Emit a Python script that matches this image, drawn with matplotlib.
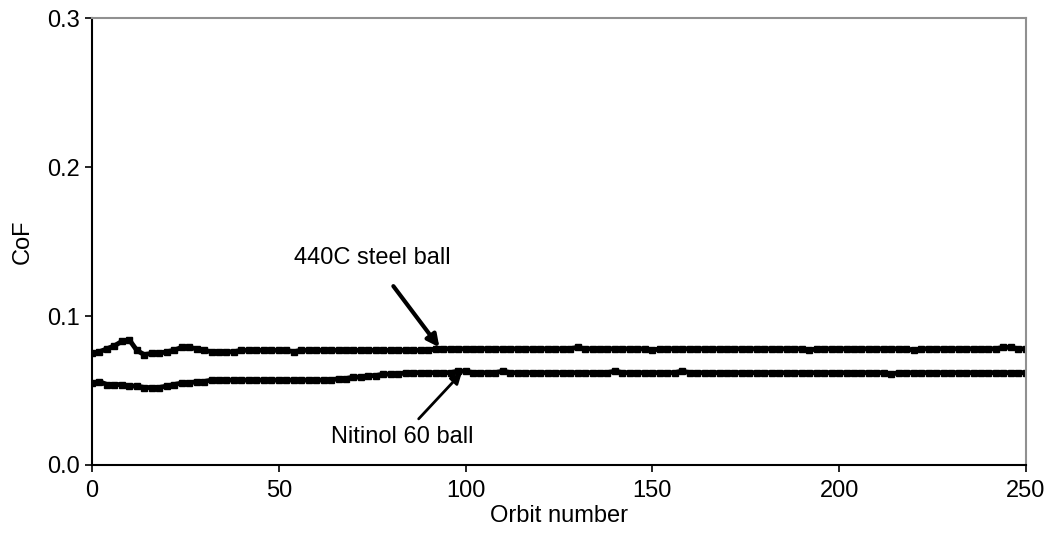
import matplotlib.pyplot as plt

plt.rcParams['font.family'] = ['Liberation Sans', 'DejaVu Sans']

# orbit numbers (every 2nd orbit)
orbits = list(range(0, 252, 2))

steel_cof = [
    0.075, 0.076, 0.078, 0.080, 0.083, 0.084, 0.077, 0.074, 0.075, 0.075,
    0.076, 0.077, 0.079, 0.079, 0.078, 0.077, 0.076, 0.076, 0.076, 0.076,
    0.077, 0.077, 0.077, 0.077, 0.077, 0.077, 0.077, 0.076, 0.077, 0.077,
    0.077, 0.077, 0.077, 0.077, 0.077, 0.077, 0.077, 0.077, 0.077, 0.077,
    0.077, 0.077, 0.077, 0.077, 0.077, 0.077, 0.078, 0.078, 0.078, 0.078,
    0.078, 0.078, 0.078, 0.078, 0.078, 0.078, 0.078, 0.078, 0.078, 0.078,
    0.078, 0.078, 0.078, 0.078, 0.078, 0.079, 0.078, 0.078, 0.078, 0.078,
    0.078, 0.078, 0.078, 0.078, 0.078, 0.077, 0.078, 0.078, 0.078, 0.078,
    0.078, 0.078, 0.078, 0.078, 0.078, 0.078, 0.078, 0.078, 0.078, 0.078,
    0.078, 0.078, 0.078, 0.078, 0.078, 0.078, 0.077, 0.078, 0.078, 0.078,
    0.078, 0.078, 0.078, 0.078, 0.078, 0.078, 0.078, 0.078, 0.078, 0.078,
    0.077, 0.078, 0.078, 0.078, 0.078, 0.078, 0.078, 0.078, 0.078, 0.078,
    0.078, 0.078, 0.079, 0.079, 0.078, 0.078,
]

nitinol_cof = [
    0.055, 0.056, 0.054, 0.054, 0.054, 0.053, 0.053, 0.052, 0.052, 0.052,
    0.053, 0.054, 0.055, 0.055, 0.056, 0.056, 0.057, 0.057, 0.057, 0.057,
    0.057, 0.057, 0.057, 0.057, 0.057, 0.057, 0.057, 0.057, 0.057, 0.057,
    0.057, 0.057, 0.057, 0.058, 0.058, 0.059, 0.059, 0.060, 0.060, 0.061,
    0.061, 0.061, 0.062, 0.062, 0.062, 0.062, 0.062, 0.062, 0.062, 0.063,
    0.063, 0.062, 0.062, 0.062, 0.062, 0.063, 0.062, 0.062, 0.062, 0.062,
    0.062, 0.062, 0.062, 0.062, 0.062, 0.062, 0.062, 0.062, 0.062, 0.062,
    0.063, 0.062, 0.062, 0.062, 0.062, 0.062, 0.062, 0.062, 0.062, 0.063,
    0.062, 0.062, 0.062, 0.062, 0.062, 0.062, 0.062, 0.062, 0.062, 0.062,
    0.062, 0.062, 0.062, 0.062, 0.062, 0.062, 0.062, 0.062, 0.062, 0.062,
    0.062, 0.062, 0.062, 0.062, 0.062, 0.062, 0.062, 0.061, 0.062, 0.062,
    0.062, 0.062, 0.062, 0.062, 0.062, 0.062, 0.062, 0.062, 0.062, 0.062,
    0.062, 0.062, 0.062, 0.062, 0.062, 0.062,
]

fig = plt.figure(figsize=(10.5, 5.33), dpi=100)
ax = fig.add_axes([0.0876, 0.1276, 0.8894, 0.8384])

for vals in (steel_cof, nitinol_cof):
    ax.plot(orbits, vals, color='black', lw=3.5, marker='s', ms=5,
            mfc='black', mec='black')

ax.set_xlim(0, 250)
ax.set_ylim(0, 0.3)
ax.set_xticks([0, 50, 100, 150, 200, 250])
ax.set_yticks([0.0, 0.1, 0.2, 0.3])
ax.set_yticklabels(['0.0', '0.1', '0.2', '0.3'])
ax.tick_params(direction='out', length=5, width=1.2, labelsize=17, color='black')
ax.tick_params(axis='x', pad=6)
ax.set_xlabel('Orbit number', fontsize=17, labelpad=2)
ax.set_ylabel('CoF', fontsize=17, labelpad=10)

for side in ('left', 'bottom'):
    ax.spines[side].set_color('black')
    ax.spines[side].set_linewidth(1.5)
for side in ('top', 'right'):
    ax.spines[side].set_color('#909090')
    ax.spines[side].set_linewidth(1.5)

ax.annotate('440C steel ball', xy=(93, 0.079), xytext=(75, 0.139),
            ha='center', va='center', fontsize=17,
            arrowprops=dict(arrowstyle='-|>', color='black', lw=3,
                            mutation_scale=18, shrinkA=13, shrinkB=0))
ax.annotate('Nitinol 60 ball', xy=(99, 0.062), xytext=(83, 0.019),
            ha='center', va='center', fontsize=17,
            arrowprops=dict(arrowstyle='-|>', color='black', lw=2,
                            mutation_scale=16, shrinkA=4, shrinkB=0))

fig.savefig('out.png', dpi=100)
